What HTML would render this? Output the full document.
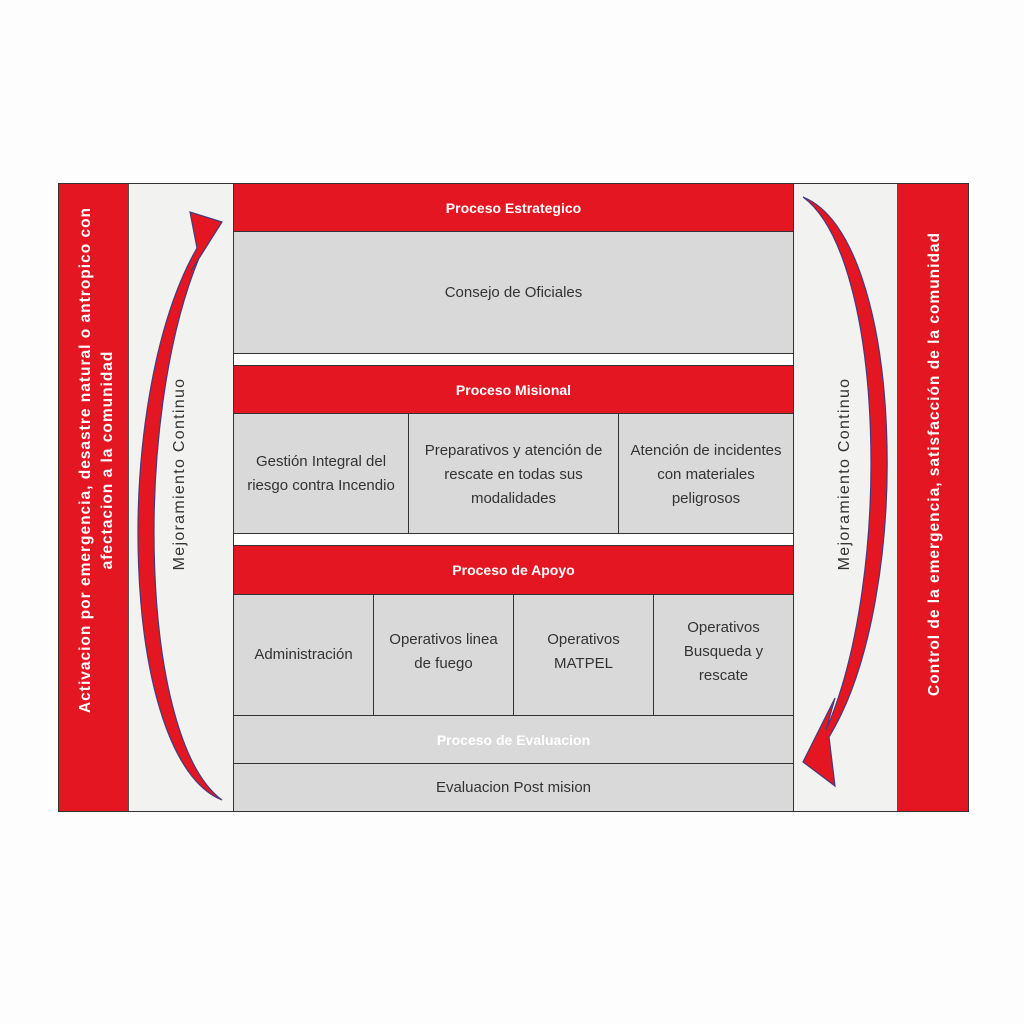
<!DOCTYPE html>
<html><head><meta charset="utf-8"><style>
body{margin:0;width:1024px;height:1024px;background:#fdfdfd;position:relative;font-family:"Liberation Sans",sans-serif;overflow:hidden}
.b{position:absolute;box-sizing:border-box;display:flex;align-items:center;justify-content:center;text-align:center;color:#333;font-size:15px;line-height:24px}
.r{background:#e31621;color:#fff;font-weight:bold;font-size:14px}
.g{background:#d9d9d9}
.bd{border:1px solid #333}
</style></head><body>
<div class="b" style="left:58px;top:183px;width:911px;height:629px;border:1.5px solid #333;background:#f2f2f1"></div>
<div class="b r" style="left:59px;top:184px;width:69px;height:627px"></div>
<div class="b r" style="left:898px;top:184px;width:70px;height:627px"></div>
<div class="b" style="left:128px;top:184px;width:1px;height:627px;background:#555"></div>
<div class="b" style="left:897px;top:184px;width:1px;height:627px;background:#555"></div>
<div class="b" style="left:233px;top:183px;width:561px;height:629px;background:#fff;border-left:1px solid #333;border-right:1px solid #333"></div>

<div class="b r" style="left:233px;top:183px;width:561px;height:49px;border:1px solid #333">Proceso Estrategico</div>
<div class="b g" style="left:233px;top:231px;width:561px;height:123px;border:1px solid #333">Consejo de Oficiales</div>

<div class="b r" style="left:233px;top:365px;width:561px;height:49px;border:1px solid #333">Proceso Misional</div>
<div class="b g bd" style="left:233px;top:413px;width:176px;height:121px">Gestión Integral del<br>riesgo contra Incendio</div>
<div class="b g bd" style="left:408px;top:413px;width:211px;height:121px;align-items:flex-start;padding-top:25px">Preparativos y atención de<br>rescate en todas sus<br>modalidades</div>
<div class="b g bd" style="left:618px;top:413px;width:176px;height:121px;align-items:flex-start;padding-top:25px">Atención de incidentes<br>con materiales<br>peligrosos</div>

<div class="b r" style="left:233px;top:545px;width:561px;height:50px;border:1px solid #333">Proceso de Apoyo</div>
<div class="b g bd" style="left:233px;top:594px;width:141px;height:122px">Administración</div>
<div class="b g bd" style="left:373px;top:594px;width:141px;height:122px;padding-bottom:6px">Operativos linea<br>de fuego</div>
<div class="b g bd" style="left:513px;top:594px;width:141px;height:122px;padding-bottom:6px">Operativos<br>MATPEL</div>
<div class="b g bd" style="left:653px;top:594px;width:141px;height:122px;padding-bottom:6px">Operativos<br>Busqueda y<br>rescate</div>
<div class="b g bd" style="left:233px;top:715px;width:561px;height:49px;color:#fff;font-weight:bold;font-size:14px">Proceso de Evaluacion</div>
<div class="b g bd" style="left:233px;top:763px;width:561px;height:49px">Evaluacion Post mision</div>

<svg style="position:absolute;left:0;top:0" width="1024" height="1024">
<path d="M222,800 C120,760 110,400 197,248 L190,212 L222,222 L191,271 L199,258 C132,420 140,740 222,800 Z" fill="#e31621" stroke="#4a3a7a" stroke-width="1.2"/>
<path d="M803,197 C905,237 915,597 829,737 L835,786 L803,762 L835,698 L826,730 C893,577 885,257 803,197 Z" fill="#e31621" stroke="#4a3a7a" stroke-width="1.2"/>
<g font-family="Liberation Sans, sans-serif" font-weight="bold" font-size="15.5" fill="#fff" text-anchor="middle" letter-spacing="1">
<text transform="translate(90,460) rotate(-90)">Activacion por emergencia,  desastre natural o antropico con</text>
<text transform="translate(112,460) rotate(-90)">afectacion a la comunidad</text>
<text transform="translate(939,464) rotate(-90)">Control de la emergencia, satisfacción de la comunidad</text>
</g>
<g font-family="Liberation Sans, sans-serif" font-size="16" fill="#333" text-anchor="middle" letter-spacing="1.3">
<text transform="translate(184,474) rotate(-90)">Mejoramiento Continuo</text>
<text transform="translate(849,474) rotate(-90)">Mejoramiento Continuo</text>
</g>
</svg>
</body></html>
